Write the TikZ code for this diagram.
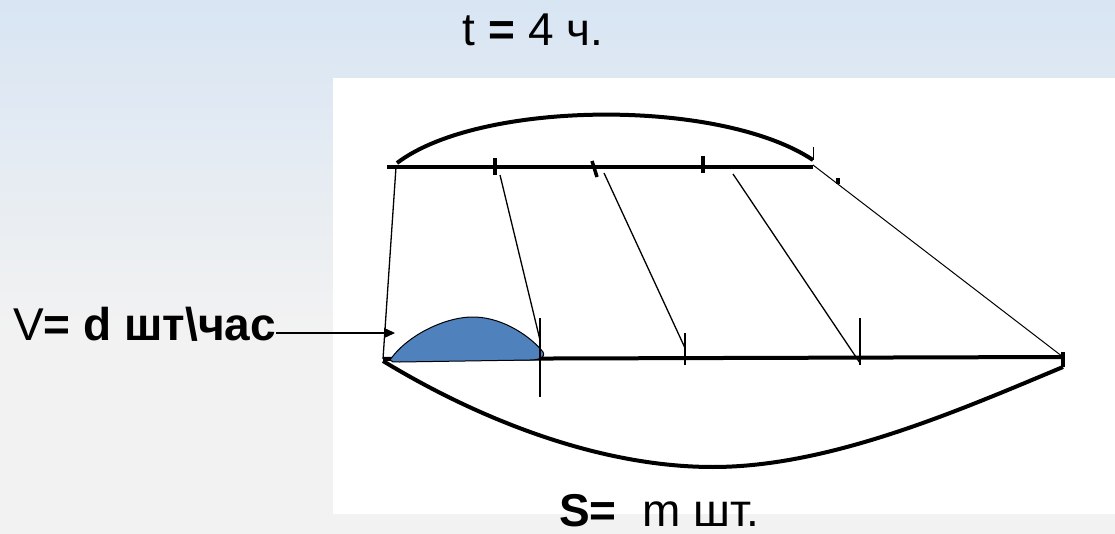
\documentclass[tikz,border=0pt]{standalone}
\usepackage{fontspec}
\setmainfont{Liberation Sans}
\usetikzlibrary{arrows.meta}
\definecolor{bgtop}{HTML}{D8E5F3}
\definecolor{bgbot}{HTML}{F2F2F2}
\definecolor{lotblue}{HTML}{4F81BD}

\begin{document}
\begin{tikzpicture}[x=1pt, y=-1pt, line join=round,
    heavy/.style={line width=4pt},
    fine/.style={line width=1.3pt},
    notch/.style={line width=3.5pt},
    stem/.style={line width=1.5pt},
    arr/.style={-{Triangle[length=11pt,width=10pt]}, line width=1.3pt},
    lbl/.style={inner sep=0pt, font=\fontsize{46}{50}\selectfont}]
    \useasboundingbox (0,0) rectangle (1115,534);
    \shade[top color=bgtop, bottom color=bgbot] (0,0) rectangle (1115,330);
    \fill[bgbot] (0,330) rectangle (1115,534);
    \fill[white] (333,78) rectangle (1115,514);

    \coordinate (tstub) at (387,167);
    \coordinate (tl)    at (396,167);
    \coordinate (tr)    at (813,167);
    \coordinate (bl)    at (383,359);
    \coordinate (br)    at (1063,357);
    \coordinate (vtip)  at (395,333);

    \node[lbl, anchor=base] (time) at (533,46) {t \textbf{=} 4 ч.};
    \node[lbl, anchor=base west] (rate) at (13,340) {V\textbf{= d шт\textbackslash час}};
    \node[lbl, anchor=base] (stock) at (659,526) {\textbf{S=}\ \ m шт.};

    \draw[heavy] (tstub) -- (tr);
    \draw[heavy] (397,163) .. controls (480,100) and (720,98) .. (813,160);
    \draw[fine] (tl) -- (bl);
    \draw[line width=1pt] (813,165) -- (br);
    \draw[line width=1pt] (813,147) -- (813,160);
    \draw[notch] (838,178) -- (838,184);
    \draw[heavy] (bl) -- (br);
    \draw[heavy] (383,361) .. controls (480,420) and (600,467) .. (713,467)
        .. controls (830,467) and (960,410) .. (1063,367);
    \draw[heavy] (1063,352) -- (1063,367);

    \foreach \xa/\ya/\xb/\yb in {500/175/540/340, 604/173/685/348, 733/174/860/363}
        \draw[fine] (\xa,\ya) -- (\xb,\yb);

    \filldraw[fill=lotblue, draw=black, line width=1pt] (390,360)
        .. controls (408,334) and (448,316) .. (475,317)
        .. controls (505,318) and (532,338) .. (543,352)
        .. controls (546,358) and (538,360) .. (530,360)
        -- (400,362) .. controls (392,362) .. cycle;

    \foreach \x/\ya/\yb in {495/158/175, 703/156/173}
        \draw[notch] (\x,\ya) -- (\x,\yb);
    \draw[notch] (592,161) -- (597,177);
    \foreach \x/\ya/\yb in {540/318/397, 685/333/365, 860/318/365}
        \draw[stem] (\x,\ya) -- (\x,\yb);

    \draw[arr] (rate.base east |- vtip) -- (vtip);
\end{tikzpicture}
\end{document}
